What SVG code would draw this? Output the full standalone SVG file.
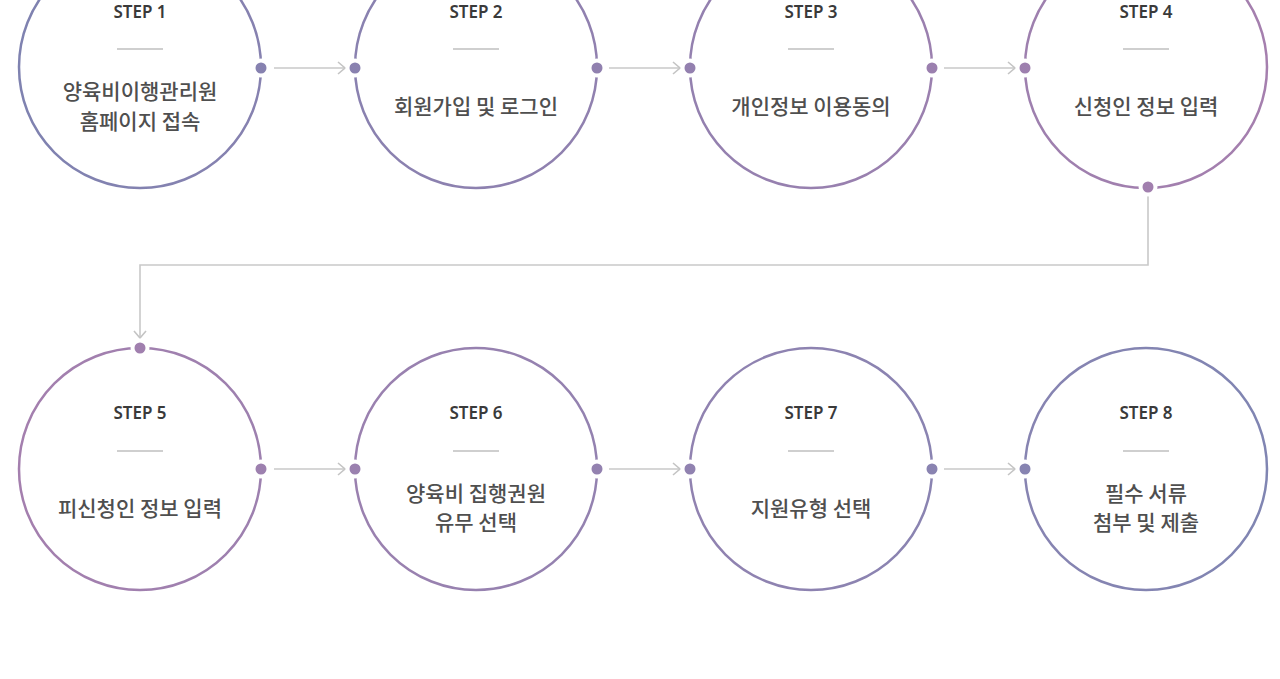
<svg xmlns="http://www.w3.org/2000/svg" width="1280" height="679" viewBox="0 0 1280 679">
<defs>
<linearGradient id="g1" gradientUnits="userSpaceOnUse" x1="19" y1="0" x2="1267" y2="0">
<stop offset="0" stop-color="#7f82b0"/><stop offset="1" stop-color="#a57fae"/>
</linearGradient>
<linearGradient id="g2" gradientUnits="userSpaceOnUse" x1="19" y1="0" x2="1267" y2="0">
<stop offset="0" stop-color="#a47fae"/><stop offset="1" stop-color="#8085b2"/>
</linearGradient>
<marker id="arr" markerWidth="14" markerHeight="14" refX="11" refY="7" orient="auto" markerUnits="userSpaceOnUse">
<path d="M4,1 L11,7 L4,13" fill="none" stroke="#c4c4c4" stroke-width="1.6"/>
</marker>
<style>
.r1{fill:#fff;stroke:url(#g1);stroke-width:2.5}
.r2{fill:#fff;stroke:url(#g2);stroke-width:2.5}
.d1{fill:url(#g1);stroke:#fff;stroke-width:4}
.d2{fill:url(#g2);stroke:#fff;stroke-width:4}
.step{font-family:"Noto Sans","Noto Sans CJK KR",sans-serif;font-size:17px;font-weight:600;fill:#3a3a3a;text-anchor:middle}
.lbl{font-family:"Noto Sans CJK KR","Noto Sans",sans-serif;font-size:21px;font-weight:500;fill:#4f4f4f;text-anchor:middle}
.div{stroke:#cfcfcf;stroke-width:2}
.con{fill:none;stroke:#c9c9c9;stroke-width:1.6}
</style>
</defs>
<rect width="1280" height="679" fill="#fff"/>

<g id="step1">
<circle class="r1" cx="140" cy="67" r="121"/>
<text class="step" x="140" y="18">STEP 1</text>
<line class="div" x1="117" y1="49" x2="163" y2="49"/>
<text class="lbl" x="140" y="99">양육비이행관리원</text>
<text class="lbl" x="140" y="129">홈페이지 접속</text>
</g>
<g id="step2">
<circle class="r1" cx="476" cy="67" r="121"/>
<text class="step" x="476" y="18">STEP 2</text>
<line class="div" x1="453" y1="49" x2="499" y2="49"/>
<text class="lbl" x="476" y="114">회원가입 및 로그인</text>
</g>
<g id="step3">
<circle class="r1" cx="811" cy="67" r="121"/>
<text class="step" x="811" y="18">STEP 3</text>
<line class="div" x1="788" y1="49" x2="834" y2="49"/>
<text class="lbl" x="811" y="114">개인정보 이용동의</text>
</g>
<g id="step4">
<circle class="r1" cx="1146" cy="67" r="121"/>
<text class="step" x="1146" y="18">STEP 4</text>
<line class="div" x1="1123" y1="49" x2="1169" y2="49"/>
<text class="lbl" x="1146" y="114">신청인 정보 입력</text>
</g>

<g id="step5">
<circle class="r2" cx="140" cy="469" r="121"/>
<text class="step" x="140" y="419">STEP 5</text>
<line class="div" x1="117" y1="451" x2="163" y2="451"/>
<text class="lbl" x="140" y="516">피신청인 정보 입력</text>
</g>
<g id="step6">
<circle class="r2" cx="476" cy="469" r="121"/>
<text class="step" x="476" y="419">STEP 6</text>
<line class="div" x1="453" y1="451" x2="499" y2="451"/>
<text class="lbl" x="476" y="501">양육비 집행권원</text>
<text class="lbl" x="476" y="530">유무 선택</text>
</g>
<g id="step7">
<circle class="r2" cx="811" cy="469" r="121"/>
<text class="step" x="811" y="419">STEP 7</text>
<line class="div" x1="788" y1="451" x2="834" y2="451"/>
<text class="lbl" x="811" y="516">지원유형 선택</text>
</g>
<g id="step8">
<circle class="r2" cx="1146" cy="469" r="121"/>
<text class="step" x="1146" y="419">STEP 8</text>
<line class="div" x1="1123" y1="451" x2="1169" y2="451"/>
<text class="lbl" x="1146" y="501">필수 서류</text>
<text class="lbl" x="1146" y="530">첨부 및 제출</text>
</g>

<g id="connectors">
<line class="con" x1="274" y1="68" x2="345" y2="68" marker-end="url(#arr)"/>
<line class="con" x1="609" y1="68" x2="680" y2="68" marker-end="url(#arr)"/>
<line class="con" x1="944" y1="68" x2="1015" y2="68" marker-end="url(#arr)"/>
<path class="con" d="M1148,196 V265 H140 V338" marker-end="url(#arr)"/>
<line class="con" x1="274" y1="469" x2="345" y2="469" marker-end="url(#arr)"/>
<line class="con" x1="609" y1="469" x2="680" y2="469" marker-end="url(#arr)"/>
<line class="con" x1="944" y1="469" x2="1015" y2="469" marker-end="url(#arr)"/>
</g>

<g id="dots">
<circle class="d1" cx="261" cy="68" r="7.5"/>
<circle class="d1" cx="355" cy="68" r="7.5"/>
<circle class="d1" cx="597" cy="68" r="7.5"/>
<circle class="d1" cx="690" cy="68" r="7.5"/>
<circle class="d1" cx="932" cy="68" r="7.5"/>
<circle class="d1" cx="1025" cy="68" r="7.5"/>
<circle class="d1" cx="1148" cy="187" r="7.5"/>
<circle class="d2" cx="140" cy="348" r="7.5"/>
<circle class="d2" cx="261" cy="469" r="7.5"/>
<circle class="d2" cx="355" cy="469" r="7.5"/>
<circle class="d2" cx="597" cy="469" r="7.5"/>
<circle class="d2" cx="690" cy="469" r="7.5"/>
<circle class="d2" cx="932" cy="469" r="7.5"/>
<circle class="d2" cx="1025" cy="469" r="7.5"/>
</g>
</svg>
